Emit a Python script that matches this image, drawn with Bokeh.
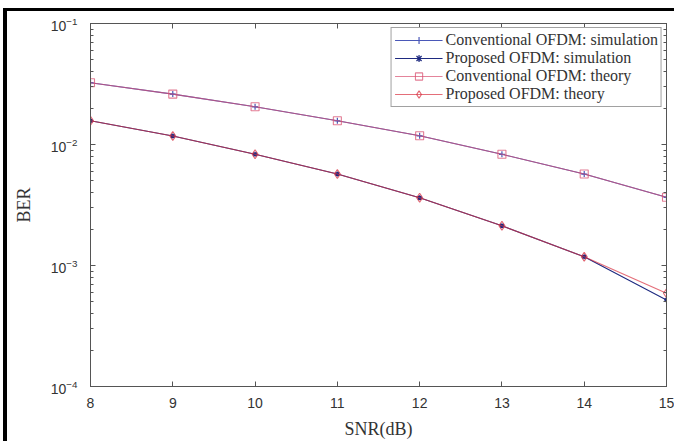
from bokeh.plotting import figure
from bokeh.models import LogAxis, LinearAxis, LogTicker, FixedTicker, Range1d, Legend
from bokeh.embed import file_html
from bokeh.resources import INLINE

snr = [8, 9, 10, 11, 12, 13, 14, 15]
conv_sim = [0.0324, 0.0261, 0.0205, 0.0157, 0.0118, 0.0083, 0.0057, 0.00366]
conv_theory = [0.0324, 0.0261, 0.0205, 0.0157, 0.0118, 0.0083, 0.0057, 0.00366]
prop_sim = [0.0157, 0.01175, 0.0083, 0.0057, 0.00363, 0.00213, 0.00118, 0.000519]
prop_theory = [0.0157, 0.01175, 0.0083, 0.0057, 0.00363, 0.00213, 0.00118, 0.000589]
x_ticks = [8, 9, 10, 11, 12, 13, 14, 15]

labels = ["Conventional OFDM: simulation", "Proposed OFDM: simulation",
          "Conventional OFDM: theory", "Proposed OFDM: theory"]

p = figure(output_backend="svg", toolbar_location=None,
           frame_width=576, frame_height=363,
           y_axis_type="log", x_range=Range1d(8, 15), y_range=Range1d(1e-4, 1e-1),
           min_border_left=83, min_border_right=8, min_border_top=12, min_border_bottom=40,
           styles={"margin-top": "8px", "margin-left": "3px",
                   "border-top": "3px solid black", "border-left": "4px solid black"})
p.grid.visible = False
p.outline_line_color = "#555555"
p.background_fill_color = "white"
p.border_fill_color = "white"

for ax in (p.xaxis[0], p.yaxis[0]):
    ax.major_tick_in = 5
    ax.major_tick_out = 0
    ax.minor_tick_in = 3
    ax.minor_tick_out = 0
    ax.axis_line_color = "#555555"
    ax.major_tick_line_color = "#555555"
    ax.minor_tick_line_color = "#555555"
    ax.major_label_text_font = "Liberation Sans"
    ax.major_label_text_font_size = "14px"
    ax.major_label_text_color = "#333333"
    ax.axis_label_text_font = "Liberation Serif"
    ax.axis_label_text_font_size = "18px"
    ax.axis_label_text_font_style = "normal"
    ax.axis_label_text_color = "#333333"
p.xaxis[0].ticker = FixedTicker(ticks=x_ticks)
p.xaxis[0].minor_tick_in = 0
p.xaxis[0].major_label_standoff = 11
p.yaxis[0].major_label_standoff = 13
p.yaxis[0].ticker = LogTicker(num_minor_ticks=10)
p.xaxis[0].axis_label = "SNR(dB)"
p.yaxis[0].axis_label = "BER"
p.xaxis[0].axis_label_standoff = 8
p.yaxis[0].axis_label_standoff = 14

top = LinearAxis(ticker=FixedTicker(ticks=x_ticks), major_label_text_font_size="1px",
                 major_label_text_alpha=0, major_label_standoff=0,
                 major_tick_in=5, major_tick_out=0, minor_tick_in=0, minor_tick_out=0,
                 axis_line_color="#555555", major_tick_line_color="#555555")
right = LogAxis(ticker=LogTicker(num_minor_ticks=10), major_label_text_font_size="1px",
                major_label_text_alpha=0, major_label_standoff=0,
                major_tick_in=5, major_tick_out=0, minor_tick_in=3, minor_tick_out=0,
                axis_line_color="#555555", major_tick_line_color="#555555",
                minor_tick_line_color="#555555")
p.add_layout(top, "above")
p.add_layout(right, "right")

c1 = "#4a58b8"
c2 = "#1e2a80"
c3 = "#d85070"
c4 = "#d83040"

r1 = p.line(snr, conv_sim, line_color=c1, line_width=1.1)
m1 = p.scatter(snr, conv_sim, marker="cross", size=6, line_color=c1, line_width=1.2)
r2 = p.line(snr, prop_sim, line_color=c2, line_width=1.1)
m2 = p.scatter(snr, prop_sim, marker="asterisk", size=5, line_color=c2, line_width=1.2)
r3 = p.line(snr, conv_theory, line_color=c3, line_width=1.1, line_alpha=0.7)
m3 = p.scatter(snr, conv_theory, marker="square", size=8, line_color=c3, fill_color=None,
               line_width=1.1, line_alpha=0.75)
r4 = p.line(snr, prop_theory, line_color=c4, line_width=1.1, line_alpha=0.7)
m4 = p.scatter(snr, prop_theory, marker="diamond", size=9, line_color=c4, fill_color=None,
               line_width=1.1, line_alpha=0.75)

legend = Legend(items=[(labels[0], [r1, m1]), (labels[1], [r2, m2]),
                       (labels[2], [r3, m3]), (labels[3], [r4, m4])],
                location="top_right", margin=4,
                label_text_font="Liberation Serif", label_text_font_size="16px",
                label_text_color="#333333", label_height=18, label_standoff=3,
                glyph_width=48, glyph_height=18, spacing=0, padding=3,
                border_line_color="#444444", border_line_width=1,
                background_fill_color="white", background_fill_alpha=1.0)
p.add_layout(legend, "center")

open("out.html", "w").write(file_html(p, INLINE))
